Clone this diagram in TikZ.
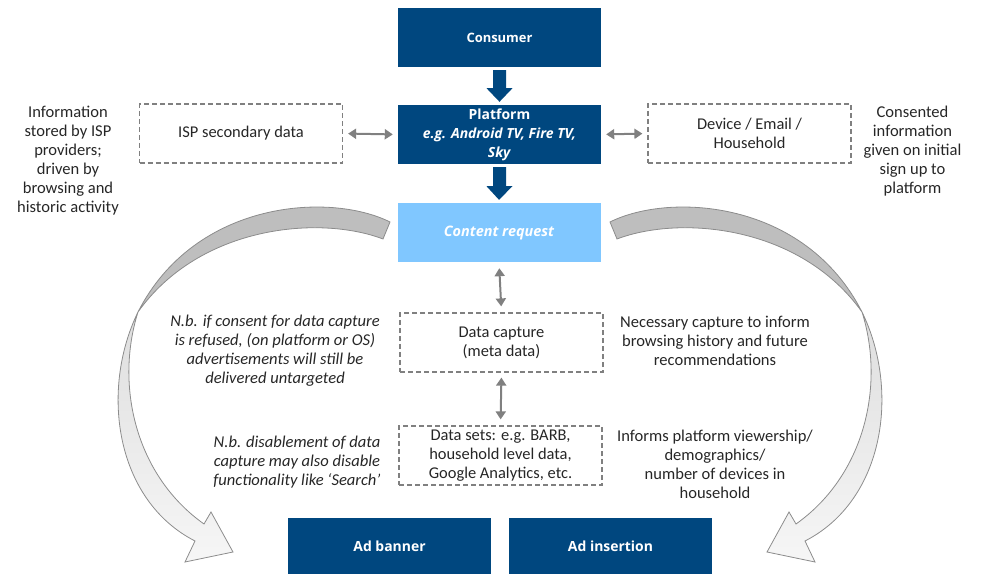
\documentclass[tikz,border=0pt]{standalone}
\usepackage{fontspec}
\setmainfont{Carlito}
\newfontfamily\boxfont{Open Sans}
\usetikzlibrary{calc,arrows.meta}

\definecolor{navy}{RGB}{0,71,127}
\definecolor{skyblue}{RGB}{128,199,255}
\definecolor{dashgray}{RGB}{128,128,128}
\definecolor{linkgray}{RGB}{128,128,128}
\definecolor{bodytext}{RGB}{38,38,38}
\definecolor{ribbonline}{RGB}{140,140,140}
\definecolor{ribbonback}{RGB}{190,190,190}
\definecolor{ribbonfronttop}{RGB}{222,222,222}
\definecolor{ribbonfrontbot}{RGB}{246,246,246}

\tikzset{
  solidbox/.style={draw=none, fill=navy, minimum width=203bp, minimum height=59bp,
    inner sep=0pt, text=white, align=center,
    font=\boxfont\bfseries\fontsize{13}{19}\selectfont},
  dashbox/.style={draw=dashgray, dash pattern=on 5bp off 3bp, line width=1.2bp,
    minimum width=203bp, minimum height=59bp, inner sep=0pt, align=center,
    text=bodytext, font=\fontsize{16.5}{19}\selectfont},
  note/.style={align=center, inner sep=0pt, text=bodytext,
    font=\fontsize{16.6}{19}\selectfont},
  italicnote/.style={note, font=\itshape\fontsize{16.6}{19}\selectfont},
  link/.style={draw=linkgray, line width=2bp,
    {Triangle[width=10bp,length=8bp]}-{Triangle[width=10bp,length=8bp]}},
  % twisted curved ribbon arrow: dark back half, light front half with head
  ribbon/.pic={
    \filldraw[fill=ribbonback, draw=ribbonline, line width=0.8bp]
      (390,222) .. controls (330,192) and (195,200) .. (138,312)
      .. controls (200,225) and (320,215) .. (383,239) -- cycle;
    \shadedraw[top color=ribbonfronttop, bottom color=ribbonfrontbot,
      draw=ribbonline, line width=0.8bp]
      (138,312) .. controls (100,390) and (115,500) .. (195,541)
      -- (185,562) -- (233,552) -- (211,512) -- (204,524)
      .. controls (135,475) and (115,385) .. (138,312) -- cycle;
  }
}

\begin{document}
\begin{tikzpicture}[x=1bp,y=-1bp]
\useasboundingbox (0,0) rectangle (981,574);

% curved ribbons on both sides
\pic at (0,0) {ribbon};
\pic[xscale=-1] at (1000,0) {ribbon};

% main column
\node[solidbox] (cons) at (499.5,37.5) {Consumer};
\node[solidbox, font=\boxfont\bfseries\fontsize{14}{19}\selectfont] (plat) at (499.5,134.5) {Platform\\\textit{e.g. Android TV, Fire TV,}\\\textit{Sky}};
\node[solidbox, fill=skyblue, font=\boxfont\bfseries\itshape\fontsize{14.5}{19}\selectfont] (req) at (499,232.5) {Content request};
\node[dashbox] (cap) at (501.5,342.5) {Data capture\\(meta data)};
\node[dashbox] (sets) at (500.5,455.5) {Data sets: e.g. BARB,\\household level data,\\Google Analytics, etc.};

% side boxes
\node[dashbox] (isp) at (241,133.5) {ISP secondary data};
\node[dashbox] (dev) at (749.5,133.5) {Device / Email /\\Household};

% outputs
\node[solidbox, minimum height=57bp, font=\boxfont\bfseries\fontsize{14}{19}\selectfont] (banner) at (389.5,546.5) {Ad banner};
\node[solidbox, minimum height=57bp, font=\boxfont\bfseries\fontsize{14}{19}\selectfont] (insert) at (610.5,546.5) {Ad insertion};

% explanatory texts
\node[note] (isptxt) at (68,160.5) {Information\\stored by ISP\\providers;\\driven by\\browsing and\\historic activity};
\node[note] (devtxt) at (912.5,151) {Consented\\information\\given on initial\\sign up to\\platform};
\node[italicnote] (note1) at (275,350.5) {N.b. if consent for data capture\\is refused, (on platform or OS)\\advertisements will still be\\delivered untargeted};
\node[italicnote] (note2) at (297,462) {N.b. disablement of data\\capture may also disable\\functionality like ‘Search’};
\node[note] (nec) at (715,341) {Necessary capture to inform\\browsing history and future\\recommendations};
\node[note] (inf) at (715,464.5) {Informs platform viewership/\\demographics/\\number of devices in\\household};

% block arrows down the main column
\fill[navy] ($(cons.south)+(-6.5,3)$) -- ($(cons.south)+(6.5,3)$)
  -- ($(cons.south)+(6.5,21)$) -- ($(cons.south)+(13,21)$)
  -- ($(plat.north)+(0,-3)$)
  -- ($(cons.south)+(-13,21)$) -- ($(cons.south)+(-6.5,21)$) -- cycle;
\fill[navy] ($(plat.south)+(-6.5,3)$) -- ($(plat.south)+(6.5,3)$)
  -- ($(plat.south)+(6.5,22)$) -- ($(plat.south)+(13,22)$)
  -- ($(req.north)+(0,-3)$)
  -- ($(plat.south)+(-13,22)$) -- ($(plat.south)+(-6.5,22)$) -- cycle;

% two-way data links
\draw[link, shorten <=5bp, shorten >=5bp] (isp.east) -- (plat.west);
\draw[link, shorten <=5bp, shorten >=5bp] (plat.east) -- (dev.west);
\draw[link, shorten <=6bp, shorten >=6bp] (req.south) -- (cap.north);
\draw[link, shorten <=5bp, shorten >=6bp] (cap.south) -- (sets.north);
\end{tikzpicture}
\end{document}
